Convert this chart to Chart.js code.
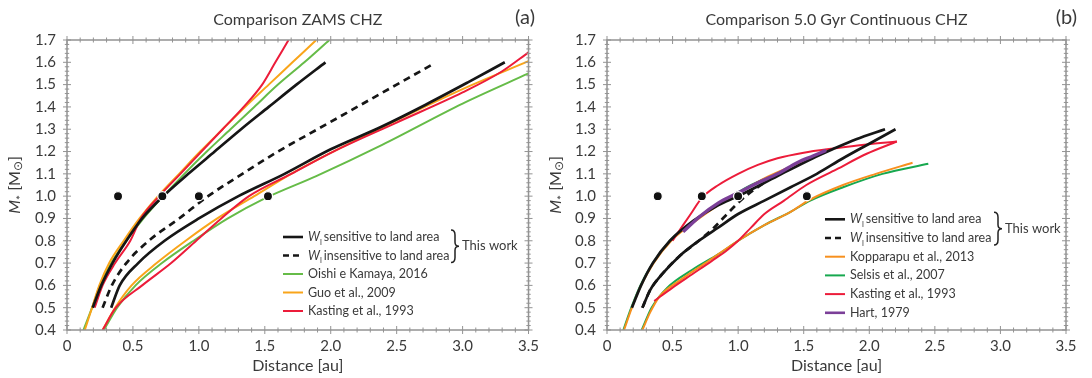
<!DOCTYPE html>
<html>
<head>
<meta charset="utf-8">
<script src="https://cdn.jsdelivr.net/npm/chart.js@4.4.1/dist/chart.umd.min.js"></script>
<style>
  body { margin: 0; background: #fff; }
  #wrap { position: relative; width: 1092px; height: 378px; }
  .panel { position: absolute; top: 0; width: 546px; height: 378px; }
</style>
</head>
<body>
<div id="wrap">
  <div class="panel" style="left:0"><canvas id="chartA"></canvas></div>
  <div class="panel" style="left:546px"><canvas id="chartB"></canvas></div>
</div>
<script>
// axis ticks
const xTickValues = [0, 0.5, 1.0, 1.5, 2.0, 2.5, 3.0, 3.5];
const yTickValues = [0.4, 0.5, 0.6, 0.7, 0.8, 0.9, 1.0, 1.1, 1.2, 1.3, 1.4, 1.5, 1.6, 1.7];

// solar system planets (Mercury, Venus, Earth, Mars)
const planetDist = [0.387, 0.723, 1.0, 1.524];
const planetMass = [1.0, 1.0, 1.0, 1.0];

// panel (a) ZAMS CHZ : [distance au, mass]
const zamsSensIn = [[0.195,0.5],[0.26,0.6],[0.345,0.7],[0.45,0.8],[0.57,0.9],[0.73,1.0],[0.92,1.1],[1.12,1.2],[1.32,1.3],[1.53,1.4],[1.74,1.5],[1.96,1.6]];
const zamsSensOut = [[0.335,0.5],[0.4,0.6],[0.54,0.7],[0.74,0.8],[1.0,0.9],[1.3,1.0],[1.65,1.1],[2.0,1.21],[2.38,1.31],[2.72,1.41],[3.04,1.51],[3.32,1.6]];
const zamsInsens = [[0.27,0.5],[0.34,0.6],[0.45,0.7],[0.62,0.8],[0.85,0.9],[1.07,1.0],[1.33,1.1],[1.6,1.2],[1.9,1.3],[2.2,1.4],[2.5,1.5],[2.77,1.59]];
const oishiIn = [[0.125,0.4],[0.19,0.5],[0.25,0.6],[0.335,0.7],[0.45,0.8],[0.58,0.9],[0.73,1.0],[0.89,1.1],[1.06,1.2],[1.24,1.3],[1.42,1.4],[1.6,1.5],[1.8,1.6],[1.99,1.7]];
const oishiOut = [[0.28,0.4],[0.38,0.5],[0.52,0.6],[0.72,0.7],[0.96,0.8],[1.22,0.9],[1.5,0.99],[1.89,1.09],[2.39,1.23],[3.0,1.415],[3.5,1.55]];
const guoIn = [[0.135,0.4],[0.19,0.5],[0.245,0.6],[0.32,0.7],[0.43,0.8],[0.55,0.9],[0.69,1.0],[0.85,1.1],[1.01,1.2],[1.18,1.3],[1.35,1.4],[1.53,1.5],[1.71,1.6],[1.89,1.7]];
const guoOut = [[0.27,0.4],[0.365,0.5],[0.49,0.6],[0.68,0.7],[0.9,0.8],[1.14,0.9],[1.42,1.0],[1.7,1.1],[2.02,1.2],[2.5,1.34],[3.0,1.48],[3.5,1.605]];
const kastingIn = [[0.21,0.5],[0.27,0.6],[0.365,0.7],[0.48,0.8],[0.56,0.9],[0.7,1.0],[0.86,1.1],[1.02,1.2],[1.18,1.3],[1.34,1.4],[1.48,1.5],[1.58,1.6],[1.68,1.7]];
const kastingOut = [[0.27,0.4],[0.37,0.5],[0.57,0.6],[0.79,0.7],[0.98,0.8],[1.17,0.9],[1.38,1.0],[1.7,1.1],[2.02,1.2],[2.5,1.33],[3.0,1.465],[3.3,1.56],[3.5,1.645]];

// panel (b) 5.0 Gyr continuous CHZ
const gyrSensIn = [[0.19,0.5],[0.26,0.6],[0.35,0.7],[0.48,0.8],[0.66,0.89],[0.85,0.96],[1.0,1.0],[1.3,1.09],[1.57,1.17],[1.72,1.21],[1.9,1.255],[2.12,1.3]];
const gyrSensOut = [[0.27,0.5],[0.33,0.58],[0.42,0.65],[0.55,0.73],[0.7,0.8],[0.85,0.86],[1.0,0.92],[1.2,0.98],[1.4,1.04],[1.6,1.1],[1.8,1.17],[2.0,1.235],[2.2,1.3]];
const gyrInsens = [[0.27,0.5],[0.33,0.58],[0.42,0.65],[0.55,0.73],[0.7,0.8],[0.8,0.85],[0.9,0.91],[1.0,0.97],[1.1,1.02],[1.2,1.06]];
const kopparapuIn = [[0.13,0.4],[0.19,0.5],[0.26,0.6],[0.355,0.7],[0.49,0.8],[0.6,0.855],[0.75,0.92],[0.9,0.98],[1.05,1.03],[1.2,1.08],[1.35,1.12],[1.5,1.155]];
const kopparapuOut = [[0.27,0.4],[0.33,0.48],[0.4,0.55],[0.55,0.62],[0.75,0.7],[1.0,0.8],[1.2,0.87],[1.4,0.93],[1.55,0.985],[1.8,1.05],[2.05,1.1],[2.33,1.15]];
const selsisIn = [[0.125,0.4],[0.185,0.5],[0.255,0.6],[0.35,0.7],[0.48,0.8],[0.6,0.86],[0.75,0.925],[0.9,0.98],[1.05,1.035],[1.25,1.09]];
const selsisOut = [[0.265,0.4],[0.34,0.5],[0.46,0.59],[0.65,0.67],[0.85,0.74],[1.0,0.8],[1.2,0.87],[1.4,0.93],[1.55,0.98],[1.8,1.04],[2.1,1.1],[2.45,1.145]];
const kasting5In = [[0.5,0.8],[0.58,0.87],[0.65,0.93],[0.72,0.99],[0.85,1.05],[1.0,1.1],[1.15,1.14],[1.3,1.17],[1.5,1.195],[1.73,1.214],[1.98,1.232],[2.21,1.245]];
const kasting5Out = [[0.36,0.53],[0.5,0.59],[0.65,0.65],[0.8,0.71],[0.92,0.76],[1.0,0.8],[1.1,0.86],[1.2,0.92],[1.35,0.98],[1.52,1.05],[1.75,1.12],[1.98,1.19],[2.21,1.245]];
const hart = [[0.58,0.84],[0.71,0.91],[0.85,0.97],[1.0,1.015],[1.15,1.06],[1.3,1.1],[1.45,1.15],[1.57,1.18],[1.67,1.205]];

const FONT = 'Lato, "DejaVu Sans", sans-serif';
const TEXT = '#3a3a3a';
const BLACK = '#161616';

function line(pts, color, width, label, extra) {
  return Object.assign({
    label: label || '',
    inLegend: !!label,
    data: pts.map(p => ({ x: p[0], y: p[1] })),
    showLine: true,
    borderColor: color,
    backgroundColor: color,
    borderWidth: width,
    pointRadius: 0,
    pointHoverRadius: 0,
    cubicInterpolationMode: 'monotone',
    fill: false,
    order: 5
  }, extra || {});
}

function planets() {
  return {
    label: '',
    data: planetDist.map((d, i) => ({ x: d, y: planetMass[i] })),
    showLine: false,
    pointRadius: 4.6,
    pointHoverRadius: 4.6,
    backgroundColor: '#111',
    borderColor: '#fff',
    borderWidth: 1.3,
    order: 0
  };
}

// frame with ticks crossing all four sides
const frame = {
  id: 'frame',
  afterDatasetsDraw(chart) {
    const { ctx, chartArea: { left, right, top, bottom }, scales: { x, y } } = chart;
    ctx.save();
    ctx.strokeStyle = '#939393';
    ctx.lineWidth = 1.5;
    ctx.strokeRect(left, top, right - left, bottom - top);
    ctx.lineWidth = 1;
    ctx.beginPath();
    for (let i = 0; i <= 35; i++) {
      const px = x.getPixelForValue(i / 10);
      const l = i % 5 === 0 ? 4 : 2.5;
      ctx.moveTo(px, bottom - l); ctx.lineTo(px, bottom + l);
      ctx.moveTo(px, top - l); ctx.lineTo(px, top + l);
    }
    for (let i = 20; i <= 85; i++) {
      const py = y.getPixelForValue(i / 50);
      const l = i % 5 === 0 ? 4 : 2.2;
      ctx.moveTo(left - l, py); ctx.lineTo(left + l, py);
      ctx.moveTo(right - l, py); ctx.lineTo(right + l, py);
    }
    ctx.stroke();
    ctx.restore();
  }
};

// titles, axis titles and legend
const deco = {
  id: 'deco',
  afterDraw(chart, args, o) {
    const ctx = chart.ctx;
    const { left, right, top, bottom } = chart.chartArea;
    const cx = (left + right) / 2;
    ctx.save();
    ctx.fillStyle = TEXT;
    ctx.textBaseline = 'middle';
    ctx.textAlign = 'center';
    ctx.font = '16px ' + FONT;
    ctx.fillText(o.title, cx, 20);
    ctx.fillText('Distance [au]', cx, 366);
    ctx.textAlign = 'right';
    ctx.font = '20px ' + FONT;
    ctx.fillText(o.tag, o.tagX, 18);

    // y title: M* [M(sun)]
    const parts = [
      ['M', 'italic 16px ' + FONT, 0],
      ['*', '12px ' + FONT, 6],
      [' [M', '16px ' + FONT, 0],
      ['\u2299', '12px "DejaVu Sans"', 4],
      [']', '16px ' + FONT, 0]
    ];
    let w = 0;
    parts.forEach(p => { ctx.font = p[1]; w += ctx.measureText(p[0]).width; });
    ctx.translate(o.yTitleX, (top + bottom) / 2);
    ctx.rotate(-Math.PI / 2);
    ctx.textAlign = 'left';
    let tx = -w / 2;
    parts.forEach(p => { ctx.font = p[1]; ctx.fillText(p[0], tx, p[2]); tx += ctx.measureText(p[0]).width; });
    ctx.setTransform(1, 0, 0, 1, 0, 0);
    ctx.scale(chart.currentDevicePixelRatio, chart.currentDevicePixelRatio);

    // legend
    let yy = o.legY;
    chart.data.datasets.forEach(ds => {
      if (!ds.inLegend) return;
      ctx.strokeStyle = ds.borderColor;
      ctx.lineWidth = Math.min(ds.borderWidth, 2.6);
      ctx.setLineDash(ds.borderDash ? [6, 4] : []);
      ctx.beginPath();
      ctx.moveTo(o.legX, yy);
      ctx.lineTo(o.legX + 20, yy);
      ctx.stroke();
      ctx.setLineDash([]);
      let lx = o.legX + 25;
      ctx.fillStyle = TEXT;
      ctx.textAlign = 'left';
      if (ds.wl) {
        ctx.font = 'italic 12.5px ' + FONT;
        ctx.fillText('W', lx, yy);
        lx += ctx.measureText('W').width;
        ctx.font = '8px ' + FONT;
        ctx.fillText('l', lx, yy + 5);
        lx += ctx.measureText('l').width + 2;
      }
      ctx.font = '12.5px ' + FONT;
      ctx.fillText(ds.label, lx, yy);
      yy += o.rowH;
    });

    // brace + "This work"
    const bx = o.braceX, y1 = o.legY - 7, y2 = o.legY + o.rowH + 7, ym = (y1 + y2) / 2;
    ctx.strokeStyle = '#222';
    ctx.lineWidth = 1.5;
    ctx.beginPath();
    ctx.moveTo(bx, y1);
    ctx.quadraticCurveTo(bx + 4, y1, bx + 4, y1 + 5);
    ctx.lineTo(bx + 4, ym - 4);
    ctx.quadraticCurveTo(bx + 4, ym, bx + 8, ym);
    ctx.quadraticCurveTo(bx + 4, ym, bx + 4, ym + 4);
    ctx.lineTo(bx + 4, y2 - 5);
    ctx.quadraticCurveTo(bx + 4, y2, bx, y2);
    ctx.stroke();
    ctx.font = '13px ' + FONT;
    ctx.fillText('This work', bx + 11, ym);
    ctx.restore();
  }
};

function axes(yWidth) {
  return {
    x: {
      type: 'linear', min: 0, max: 3.5,
      afterFit(s) { s.height = 48; },
      afterBuildTicks(s) { s.ticks = xTickValues.map(v => ({ value: v })); },
      grid: { display: false, drawTicks: false },
      border: { display: false },
      ticks: {
        padding: 7, color: TEXT, maxRotation: 0, autoSkip: false,
        font: { family: FONT, size: 15 },
        callback: v => (v === 0 ? '0' : v.toFixed(1))
      }
    },
    y: {
      type: 'linear', min: 0.4, max: 1.7,
      afterFit(s) { s.width = yWidth; },
      afterBuildTicks(s) { s.ticks = yTickValues.map(v => ({ value: v })); },
      grid: { display: false, drawTicks: false },
      border: { display: false },
      ticks: {
        padding: 11, color: TEXT, autoSkip: false,
        font: { family: FONT, size: 15 },
        callback: v => v.toFixed(1)
      }
    }
  };
}

function makeChart(id, datasets, yWidth, rightPad, decoOpts) {
  return new Chart(document.getElementById(id), {
    type: 'scatter',
    data: { datasets: datasets },
    options: {
      responsive: true,
      maintainAspectRatio: false,
      animation: false,
      layout: { padding: { top: 40, right: rightPad, left: 0, bottom: 0 } },
      scales: axes(yWidth),
      plugins: {
        legend: { display: false },
        tooltip: { enabled: false },
        deco: decoOpts
      }
    },
    plugins: [frame, deco]
  });
}

const GREEN_A = '#66bc48', ORANGE_A = '#f9a51a', RED = '#ec1c3a';
const ORANGE_B = '#f7901e', GREEN_B = '#17a84f', PURPLE = '#7b3f98';

makeChart('chartA', [
  planets(),
  line(zamsSensIn, BLACK, 2.7, 'sensitive to land area', { wl: true, order: 1 }),
  line(zamsSensOut, BLACK, 2.7, '', { order: 1 }),
  line(zamsInsens, BLACK, 2.7, 'insensitive to land area', { wl: true, borderDash: [7, 5], order: 1 }),
  line(oishiIn, GREEN_A, 2, 'Oishi e Kamaya, 2016', { order: 4 }),
  line(oishiOut, GREEN_A, 2, '', { order: 4 }),
  line(guoIn, ORANGE_A, 2, 'Guo et al., 2009', { order: 3 }),
  line(guoOut, ORANGE_A, 2, '', { order: 3 }),
  line(kastingIn, RED, 2, 'Kasting et al., 1993', { order: 2 }),
  line(kastingOut, RED, 2, '', { order: 2 })
], 67, 16, {
  title: 'Comparison ZAMS CHZ', tag: '(a)', tagX: 535, yTitleX: 15,
  legX: 283, legY: 237, rowH: 18.5, braceX: 451
});

makeChart('chartB', [
  planets(),
  line(gyrSensIn, BLACK, 2.7, 'sensitive to land area', { wl: true, order: 2 }),
  line(gyrSensOut, BLACK, 2.7, '', { order: 2 }),
  line(gyrInsens, BLACK, 2.7, 'insensitive to land area', { wl: true, borderDash: [7, 5], order: 1.5 }),
  line(kopparapuIn, ORANGE_B, 2, 'Kopparapu et al., 2013', { order: 4 }),
  line(kopparapuOut, ORANGE_B, 2, '', { order: 4 }),
  line(selsisIn, GREEN_B, 2, 'Selsis et al., 2007', { order: 5 }),
  line(selsisOut, GREEN_B, 2, '', { order: 5 }),
  line(kasting5In, RED, 2, 'Kasting et al., 1993', { order: 3 }),
  line(kasting5Out, RED, 2, '', { order: 3 }),
  line(hart, PURPLE, 3.4, 'Hart, 1979', { order: 1 })
], 61, 26, {
  title: 'Comparison 5.0 Gyr Continuous CHZ', tag: '(b)', tagX: 531, yTitleX: 10,
  legX: 279, legY: 219.3, rowH: 18.7, braceX: 448
});
</script>
</body>
</html>
